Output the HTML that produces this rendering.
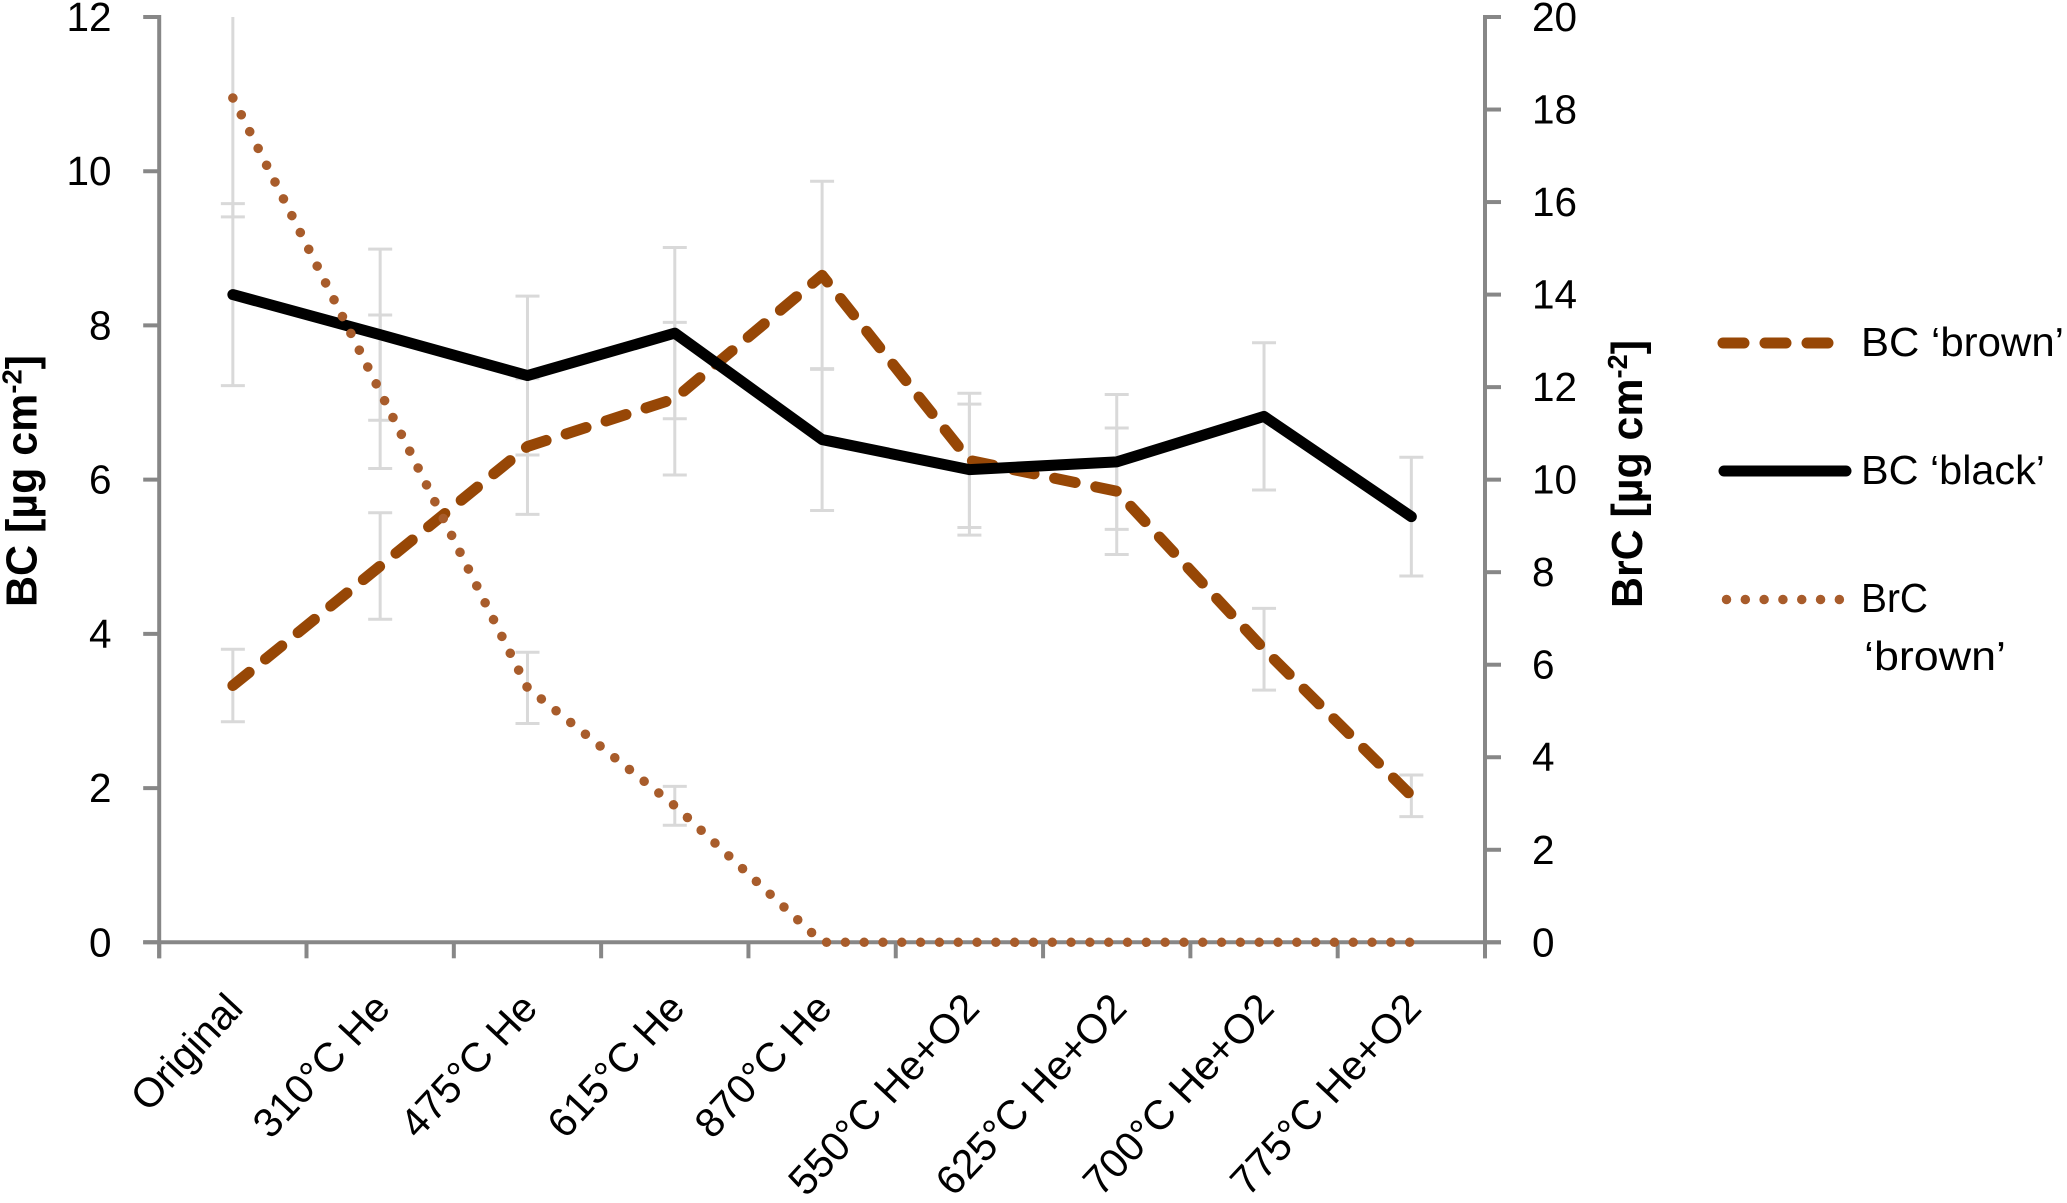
<!DOCTYPE html>
<html lang="en">
<head>
<meta charset="utf-8">
<title>BC and BrC chart</title>
<style>
  html, body { margin: 0; padding: 0; background: #fff; }
  body { width: 2067px; height: 1203px; overflow: hidden; }
  svg { display: block; font-family: "Liberation Sans", sans-serif; fill: #000; }
  .tick-label { font-size: 40.5px; }
  .x-label { font-size: 41px; }
  .axis-title { font-size: 44px; font-weight: bold; }
  .legend-label { font-size: 41px; }
</style>
</head>
<body>
<svg id="chart" xmlns="http://www.w3.org/2000/svg" width="2067" height="1203" viewBox="0 0 2067 1203">
  <g id="error-bars"></g>
  <g id="axes"></g>
  <g id="series"></g>
  <g id="labels"></g>

  <text class="axis-title" transform="translate(36.5,607) rotate(-90)" textLength="252" lengthAdjust="spacingAndGlyphs">BC [µg cm<tspan dy="-15" font-size="28">-2</tspan><tspan dy="15">]</tspan></text>
  <text class="axis-title" transform="translate(1642,608) rotate(-90)" textLength="268" lengthAdjust="spacingAndGlyphs">BrC [µg cm<tspan dy="-15" font-size="28">-2</tspan><tspan dy="15">]</tspan></text>

  <g>
    <g>
      <line x1="1723" y1="343" x2="1832" y2="343" stroke="#974706" stroke-width="11" stroke-linecap="round" stroke-dasharray="21 21"/>
      <text class="legend-label" x="1861" y="356" textLength="203" lengthAdjust="spacingAndGlyphs">BC ‘brown’</text>
    </g>
    <g>
      <line x1="1724" y1="471" x2="1846" y2="471" stroke="#000" stroke-width="11" stroke-linecap="round"/>
      <text class="legend-label" x="1861" y="484" textLength="184" lengthAdjust="spacingAndGlyphs">BC ‘black’</text>
    </g>
    <g>
      <line x1="1726.5" y1="599.5" x2="1840" y2="599.5" stroke="#a85c2b" stroke-width="9.5" stroke-linecap="round" stroke-dasharray="0.01 18.8"/>
      <text class="legend-label" x="1861" y="612" textLength="67" lengthAdjust="spacingAndGlyphs">BrC</text>
      <text class="legend-label" x="1864" y="670" textLength="142" lengthAdjust="spacingAndGlyphs">‘brown’</text>
    </g>
  </g>
</svg>

<script>
const categories = ["Original", "310°C He", "475°C He", "615°C He", "870°C He", "550°C He+O2", "625°C He+O2", "700°C He+O2", "775°C He+O2"];
const bcBrown = [3.33, 4.88, 6.43, 7.05, 8.65, 6.25, 5.85, 3.8, 1.9];
const bcBlack = [8.4, 7.88, 7.35, 7.9, 6.52, 6.13, 6.23, 6.82, 5.52];
const brcBrown = [18.25, 11.9, 5.5, 2.95, 0, 0, 0, 0, 0];
const bcBrownErr = [0.47, 0.69, 0.88, 0.99, 1.22, 0.87, 0.82, 0.53, 0.27];
const bcBlackErr = [1.18, 1.11, 1.03, 1.11, 0.92, 0.85, 0.875, 0.955, 0.77];
const brcBrownErr = [2.57, 1.66, 0.77, 0.42, 0, 0, 0, 0, 0];
const leftTicks = [0, 2, 4, 6, 8, 10, 12];
const rightTicks = [0, 2, 4, 6, 8, 10, 12, 14, 16, 18, 20];

const plotLeft = 159.2, plotRight = 1485, plotTop = 17, plotBottom = 942.3;
const leftMax = 12, rightMax = 20;
const SVG_NS = "http://www.w3.org/2000/svg";

function xPos(i) { return plotLeft + (plotRight - plotLeft) * (i + 0.5) / categories.length; }
function xEdge(i) { return plotLeft + (plotRight - plotLeft) * i / categories.length; }
function yLeft(v) { return plotBottom - (plotBottom - plotTop) * v / leftMax; }
function yRight(v) { return plotBottom - (plotBottom - plotTop) * v / rightMax; }

function makeLine(parent, x1, y1, x2, y2, color, width) {
  const el = document.createElementNS(SVG_NS, "line");
  el.setAttribute("x1", x1);
  el.setAttribute("y1", y1);
  el.setAttribute("x2", x2);
  el.setAttribute("y2", y2);
  el.setAttribute("stroke", color);
  el.setAttribute("stroke-width", width);
  parent.appendChild(el);
  return el;
}

function makeText(parent, x, y, str, anchor, cls) {
  const el = document.createElementNS(SVG_NS, "text");
  el.setAttribute("x", x);
  el.setAttribute("y", y);
  el.setAttribute("class", cls);
  el.setAttribute("text-anchor", anchor);
  el.textContent = str;
  parent.appendChild(el);
  return el;
}

const errGroup = document.getElementById("error-bars");
const axesGroup = document.getElementById("axes");
const seriesGroup = document.getElementById("series");
const labelGroup = document.getElementById("labels");

function drawErrorBars(values, errs, yFn, axisMax) {
  values.forEach(function (v, i) {
    const x = xPos(i);
    const hi = v + errs[i];
    const lo = Math.max(v - errs[i], 0);
    const clipped = hi > axisMax;
    const stem = makeLine(errGroup, x, yFn(Math.min(hi, axisMax)), x, yFn(lo), "#d9d9d9", 3);
    
    
    if (!clipped) {
      const capHi = makeLine(errGroup, x - 12, yFn(hi), x + 12, yFn(hi), "#d9d9d9", 3);
      
      
    }
    const capLo = makeLine(errGroup, x - 12, yFn(lo), x + 12, yFn(lo), "#d9d9d9", 3);
    
    
  });
}
drawErrorBars(bcBrown, bcBrownErr, yLeft, leftMax);
drawErrorBars(bcBlack, bcBlackErr, yLeft, leftMax);
drawErrorBars(brcBrown, brcBrownErr, yRight, rightMax);

const axisColor = "#878787";
const axisWidth = 4;
const leftAxis = makeLine(axesGroup, plotLeft, plotTop - 2, plotLeft, plotBottom + 16, axisColor, axisWidth);


const rightAxis = makeLine(axesGroup, plotRight, plotTop - 2, plotRight, plotBottom + 16, axisColor, axisWidth);


const xAxis = makeLine(axesGroup, plotLeft - 16, plotBottom, plotRight + 16, plotBottom, axisColor, axisWidth);



leftTicks.forEach(function (t) {
  const y = yLeft(t);
  const tick = makeLine(axesGroup, plotLeft - 16, y, plotLeft, y, axisColor, axisWidth);
  
  
  const label = makeText(labelGroup, 111.5, y + 14, String(t), "end", "tick-label");
  
  
});

rightTicks.forEach(function (t) {
  const y = yRight(t);
  const tick = makeLine(axesGroup, plotRight, y, plotRight + 16, y, axisColor, axisWidth);
  
  
  const label = makeText(labelGroup, 1532, y + 14, String(t), "start", "tick-label");
  
  
});

for (let i = 0; i <= categories.length; i++) {
  const tick = makeLine(axesGroup, xEdge(i), plotBottom, xEdge(i), plotBottom + 16, axisColor, axisWidth);
  
  
}

categories.forEach(function (c, i) {
  const ax = xPos(i) + 12;
  const ay = 1010;
  const label = makeText(labelGroup, 0, 0, c, "end", "x-label");
  label.setAttribute("transform", "translate(" + ax + "," + ay + ") rotate(-47) scale(1,1)");
  
  
});

function makeSeries(values, yFn, color, width, dash) {
  const el = document.createElementNS(SVG_NS, "polyline");
  const pts = values.map(function (v, i) { return xPos(i).toFixed(2) + "," + yFn(v).toFixed(2); });
  el.setAttribute("points", pts.join(" "));
  el.setAttribute("fill", "none");
  el.setAttribute("stroke", color);
  el.setAttribute("stroke-width", width);
  el.setAttribute("stroke-linecap", "round");
  el.setAttribute("stroke-linejoin", "round");
  if (dash) el.setAttribute("stroke-dasharray", dash);
  seriesGroup.appendChild(el);
  return el;
}

const brownLine = makeSeries(bcBrown, yLeft, "#974706", 11, "21 21");


const blackLine = makeSeries(bcBlack, yLeft, "#000000", 11, null);


const brcLine = makeSeries(brcBrown, yRight, "#a85c2b", 9.5, "0.01 18.8");


</script>
</body>
</html>
